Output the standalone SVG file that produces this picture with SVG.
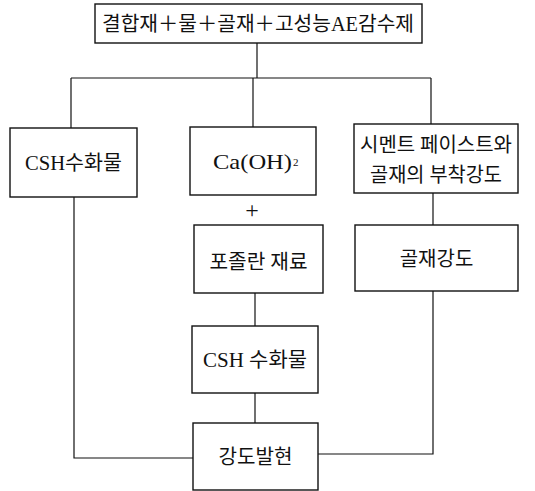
<svg xmlns="http://www.w3.org/2000/svg" width="535" height="491" viewBox="0 0 535 491">
<style>
.box{fill:#fff;stroke:#111;stroke-width:1.4}
.t{font-family:"Liberation Serif","Noto Sans CJK KR",serif;font-size:20px;fill:#111;text-anchor:middle}
.c{fill:none;stroke:#111;stroke-width:1.2}
</style>
<rect width="535" height="491" fill="#fff"/>
<g id="connectors">
<path class="c" d="M257,43 V78"/>
<path class="c" d="M71,78 H431"/>
<path class="c" d="M71,78 V128"/>
<path class="c" d="M253,78 V127"/>
<path class="c" d="M431,78 V124"/>
<path class="c" d="M433,193 V225"/>
<path class="c" d="M255,293 V326"/>
<path class="c" d="M255,393 V423"/>
<path class="c" d="M74,197 V458 H193"/>
<path class="c" d="M433,291 V454 H318"/>
</g>
<g id="n-top">
<rect class="box" x="95" y="4" width="327" height="39"/>
<text class="t" x="258" y="31" textLength="312" lengthAdjust="spacingAndGlyphs">결합재＋물＋골재＋고성능AE감수제</text>
</g>
<g id="n-csh1">
<rect class="box" x="10" y="128" width="127" height="69"/>
<text class="t" x="73.5" y="170" textLength="97" lengthAdjust="spacingAndGlyphs">CSH수화물</text>
</g>
<g id="n-caoh">
<rect class="box" x="190" y="127" width="126" height="68"/>
<text class="t" x="213" y="169" style="text-anchor:start;font-size:21px"><tspan textLength="79" lengthAdjust="spacingAndGlyphs">Ca(OH)</tspan><tspan font-size="11" dx="1" dy="-3">2</tspan></text>
</g>
<g id="n-plus">
<text class="t" x="252" y="218" style="font-size:24px">+</text>
</g>
<g id="n-bond">
<rect class="box" x="354" y="124" width="164" height="69"/>
<text class="t" x="436" y="152" textLength="152" lengthAdjust="spacingAndGlyphs">시멘트 페이스트와</text>
<text class="t" x="436" y="182" textLength="132" lengthAdjust="spacingAndGlyphs">골재의 부착강도</text>
</g>
<g id="n-pozz">
<rect class="box" x="194" y="225" width="129" height="68"/>
<text class="t" x="258.5" y="269" textLength="98" lengthAdjust="spacingAndGlyphs">포졸란 재료</text>
</g>
<g id="n-agg">
<rect class="box" x="355" y="225" width="163" height="66"/>
<text class="t" x="436.5" y="266">골재강도</text>
</g>
<g id="n-csh2">
<rect class="box" x="192" y="326" width="126" height="67"/>
<text class="t" x="255" y="367" textLength="104" lengthAdjust="spacingAndGlyphs">CSH 수화물</text>
</g>
<g id="n-strength">
<rect class="box" x="193" y="423" width="125" height="67"/>
<text class="t" x="255.5" y="464" textLength="74" lengthAdjust="spacingAndGlyphs">강도발현</text>
</g>
</svg>
